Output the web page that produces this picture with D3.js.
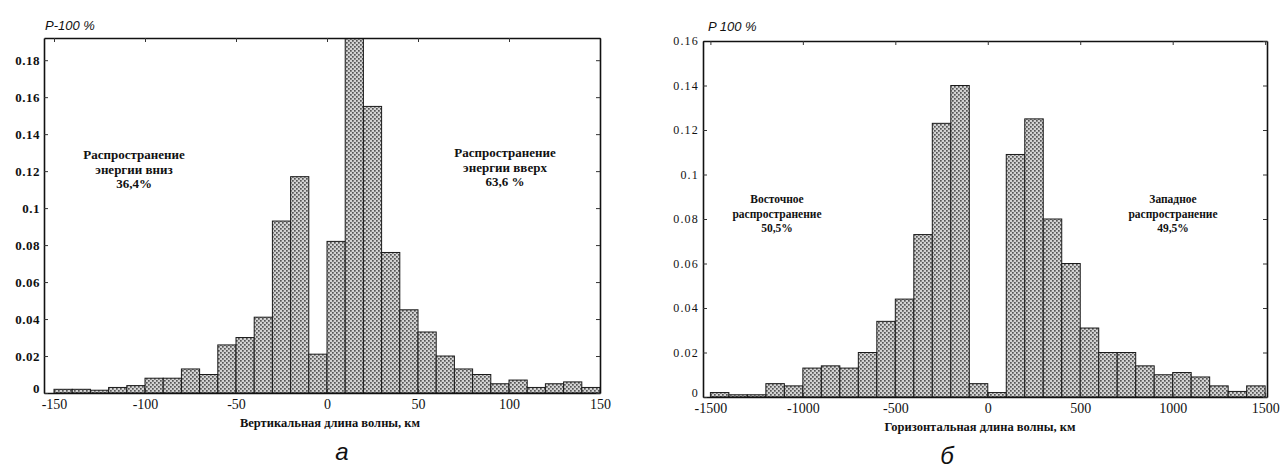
<!DOCTYPE html>
<html>
<head>
<meta charset="utf-8">
<script src="https://cdn.jsdelivr.net/npm/d3@7"></script>
<style>
  body { margin: 0; background: #fff; }
  svg { display: block; }
</style>
</head>
<body>
<svg id="chart" width="1287" height="470"></svg>
<script>
// ---- data: share of wave energy per wavelength bin ----
// (а) vertical wavelength, 10 km bins from -150 to 150 km
const verticalBinStart = d3.range(-150, 150, 10);
const verticalShares = [
  0.002, 0.002, 0.0015, 0.003, 0.004, 0.008, 0.008, 0.013, 0.010, 0.026,
  0.030, 0.041, 0.093, 0.117, 0.021, 0.082, 0.195, 0.155, 0.076, 0.045,
  0.033, 0.020, 0.013, 0.010, 0.005, 0.007, 0.003, 0.005, 0.006, 0.003
];
const verticalXTicks = [-150, -100, -50, 0, 50, 100, 150];
const verticalXTickLabels = ["-150", "-100", "-50", "0", "50", "100", "150"];
const verticalYTicks = [0, 0.02, 0.04, 0.06, 0.08, 0.1, 0.12, 0.14, 0.16, 0.18];
const verticalYTickLabels = ["0", "0.02", "0.04", "0.06", "0.08", "0.1", "0.12", "0.14", "0.16", "0.18"];

// (б) horizontal wavelength, 100 km bins from -1500 to 1500 km
const horizontalBinStart = d3.range(-1500, 1500, 100);
const horizontalShares = [
  0.002, 0.001, 0.001, 0.006, 0.005, 0.013, 0.014, 0.013, 0.020, 0.034,
  0.044, 0.073, 0.123, 0.140, 0.006, 0.002, 0.109, 0.125, 0.080, 0.060,
  0.031, 0.020, 0.020, 0.014, 0.010, 0.011, 0.009, 0.005, 0.0025, 0.005
];
const horizontalXTicks = [-1500, -1000, -500, 0, 500, 1000, 1500];
const horizontalXTickLabels = ["-1500", "-1000", "-500", "0", "500", "1000", "1500"];
const horizontalYTicks = [0, 0.02, 0.04, 0.06, 0.08, 0.1, 0.12, 0.14, 0.16];
const horizontalYTickLabels = ["0", "0.02", "0.04", "0.06", "0.08", "0.1", "0.12", "0.14", "0.16"];

// ---- panel layout ----
const panels = [
  {
    id: "a",
    binStart: verticalBinStart, binWidth: 10, shares: verticalShares,
    xDomain: [-155.5, 150], xRange: [44, 600],
    yDomain: [0, 0.192], yRange: [393, 38],
    xTicks: verticalXTicks, xTickLabels: verticalXTickLabels,
    yTicks: verticalYTicks, yTickLabels: verticalYTickLabels,
    yFont: { size: 13, weight: "bold", spacing: 0.5 },
    yName: "P-100 %", yNamePos: [45, 30],
    xTitle: "Вертикальная длина волны, км", xTitlePos: [330, 427], xTitleSize: 12.5,
    notes: [
      { x: 134, y: 159, size: 13, lines: ["Распространение", "энергии вниз", "36,4%"] },
      { x: 505, y: 157, size: 13, lines: ["Распространение", "энергии вверх", "63,6 %"] }
    ],
    caption: "а", captionPos: [342, 460]
  },
  {
    id: "b",
    binStart: horizontalBinStart, binWidth: 100, shares: horizontalShares,
    xDomain: [-1540, 1510], xRange: [703, 1267],
    yDomain: [0, 0.16], yRange: [397, 41],
    xTicks: horizontalXTicks, xTickLabels: horizontalXTickLabels,
    yTicks: horizontalYTicks, yTickLabels: horizontalYTickLabels,
    yFont: { size: 12, weight: "normal", spacing: 1.2 },
    yName: "P 100 %", yNamePos: [708, 31],
    xTitle: "Горизонтальная длина волны, км", xTitlePos: [980, 431], xTitleSize: 12.5,
    notes: [
      { x: 777, y: 203, size: 11.5, lines: ["Восточное", "распространение", "50,5%"] },
      { x: 1173, y: 203, size: 11.5, lines: ["Западное", "распространение", "49,5%"] }
    ],
    caption: "б", captionPos: [947, 464]
  }
];

const svg = d3.select("#chart");
const defs = svg.append("defs");

// stippled fill used for the histogram bars
const stipple = defs.append("pattern")
  .attr("id", "stipple")
  .attr("patternUnits", "userSpaceOnUse")
  .attr("width", 4).attr("height", 4);
stipple.append("rect").attr("width", 4).attr("height", 4).attr("fill", "#d2d2d2");
stipple.append("rect").attr("x", 0).attr("y", 0).attr("width", 1.7).attr("height", 1.7).attr("fill", "#555");
stipple.append("rect").attr("x", 2).attr("y", 2).attr("width", 1.7).attr("height", 1.7).attr("fill", "#555");

panels.forEach(p => {
  const x = d3.scaleLinear().domain(p.xDomain).range(p.xRange);
  const y = d3.scaleLinear().domain(p.yDomain).range(p.yRange);
  const g = svg.append("g");

  // clip bars to the plotting box
  defs.append("clipPath").attr("id", "clip-" + p.id)
    .append("rect")
    .attr("x", p.xRange[0]).attr("y", p.yRange[1])
    .attr("width", p.xRange[1] - p.xRange[0])
    .attr("height", p.yRange[0] - p.yRange[1]);

  const bins = p.binStart.map((s, i) => ({ x0: s, x1: s + p.binWidth, v: p.shares[i] }));

  g.append("g")
    .attr("clip-path", `url(#clip-${p.id})`)
    .selectAll("rect")
    .data(bins)
    .join("rect")
    .attr("x", d => x(d.x0))
    .attr("y", d => y(d.v))
    .attr("width", d => x(d.x1) - x(d.x0))
    .attr("height", d => y(0) - y(d.v))
    .attr("fill", "url(#stipple)")
    .attr("stroke", "#1a1a1a")
    .attr("stroke-width", 1);

  // axes: ticks point inward on all four sides
  const fmtX = d => p.xTickLabels[p.xTicks.indexOf(d)];
  const fmtY = d => p.yTickLabels[p.yTicks.indexOf(d)];

  const xAxis = g.append("g")
    .attr("transform", `translate(0,${p.yRange[0]})`)
    .call(d3.axisBottom(x).tickValues(p.xTicks).tickFormat(fmtX).tickSizeInner(-4).tickSizeOuter(0).tickPadding(6));
  xAxis.selectAll("text")
    .attr("font-family", "Liberation Serif, Times New Roman, serif")
    .attr("font-size", 14).attr("fill", "#111");

  const yAxis = g.append("g")
    .attr("transform", `translate(${p.xRange[0]},0)`)
    .call(d3.axisLeft(y).tickValues(p.yTicks).tickFormat(fmtY).tickSizeInner(-4).tickSizeOuter(0).tickPadding(4));
  yAxis.selectAll("text")
    .attr("font-family", "Liberation Serif, Times New Roman, serif")
    .attr("font-size", p.yFont.size)
    .attr("font-weight", p.yFont.weight)
    .attr("letter-spacing", p.yFont.spacing)
    .attr("fill", "#111");
  // lift the zero label so it clears the first x label at the corner
  yAxis.selectAll(".tick").filter(d => d === 0).select("text").attr("dy", "-0.05em");

  g.append("g")
    .attr("transform", `translate(0,${p.yRange[1]})`)
    .call(d3.axisTop(x).tickValues(p.xTicks).tickFormat("").tickSizeInner(-4).tickSizeOuter(0));
  g.append("g")
    .attr("transform", `translate(${p.xRange[1]},0)`)
    .call(d3.axisRight(y).tickValues(p.yTicks).tickFormat("").tickSizeInner(-4).tickSizeOuter(0));

  g.selectAll(".domain").attr("stroke", "#111").attr("stroke-width", 1.6);
  g.selectAll(".tick line").attr("stroke", "#333").attr("stroke-width", 1);

  // axis names
  g.append("text")
    .attr("x", p.yNamePos[0]).attr("y", p.yNamePos[1])
    .attr("font-family", "Liberation Sans, Arial, sans-serif")
    .attr("font-style", "italic")
    .attr("font-size", 13)
    .attr("fill", "#111")
    .text(p.yName);

  g.append("text")
    .attr("x", p.xTitlePos[0]).attr("y", p.xTitlePos[1])
    .attr("text-anchor", "middle")
    .attr("font-family", "Liberation Serif, Times New Roman, serif")
    .attr("font-weight", "bold")
    .attr("font-size", p.xTitleSize)
    .attr("fill", "#111")
    .text(p.xTitle);

  // energy propagation notes
  p.notes.forEach(n => {
    const t = g.append("text")
      .attr("text-anchor", "middle")
      .attr("font-family", "Liberation Serif, Times New Roman, serif")
      .attr("font-weight", "bold")
      .attr("font-size", n.size)
      .attr("fill", "#111");
    n.lines.forEach((line, i) => {
      t.append("tspan").attr("x", n.x).attr("y", n.y + i * 14.5).text(line);
    });
  });

  // panel letter
  g.append("text")
    .attr("x", p.captionPos[0]).attr("y", p.captionPos[1])
    .attr("text-anchor", "middle")
    .attr("font-family", "Liberation Sans, Arial, sans-serif")
    .attr("font-style", "italic")
    .attr("font-size", 24)
    .attr("fill", "#111")
    .text(p.caption);
});
</script>
</body>
</html>
